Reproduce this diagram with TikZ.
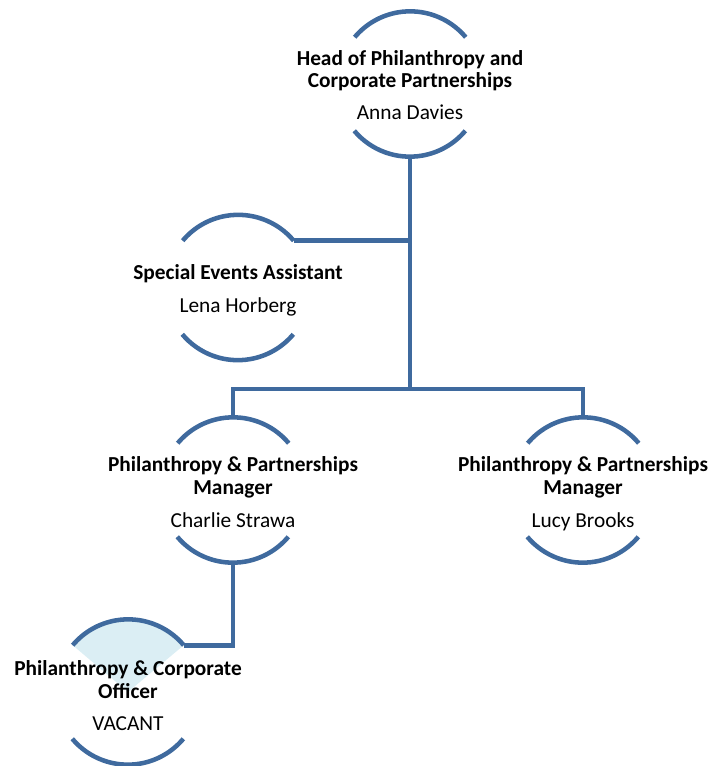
\documentclass[tikz,border=0pt]{standalone}
\usepackage{fontspec}
\setmainfont{Carlito}
\definecolor{lineblue}{HTML}{3F6A9E}
\definecolor{fillblue}{HTML}{DBEEF4}
\newcommand\personarcs[1]{%
  \draw[arcline] (#1.40) arc[start angle=40,end angle=140,radius=72.5];
  \draw[arcline] (#1.220) arc[start angle=220,end angle=320,radius=72.5];}
\begin{document}
\begin{tikzpicture}[x=0.75pt,y=0.75pt,
  person/.style={circle, minimum size=108.75pt, inner sep=0pt},
  arcline/.style={draw=lineblue, line width=3.4pt},
  conn/.style={draw=lineblue, line width=3.4pt},
  titletext/.style={font=\fontsize{16}{17}\selectfont\bfseries, align=center, anchor=base, inner sep=0pt},
  nametext/.style={font=\fontsize{16}{17}\selectfont, anchor=base, inner sep=0pt}]
\useasboundingbox (0,0) rectangle (711,-766);

% person circles (invisible frames)
\node[person] (head) at (410,-84) {};
\node[person] (special) at (238,-287.5) {};
\node[person] (charlie) at (233,-490) {};
\node[person] (lucy) at (583,-490) {};
\node[person] (vacant) at (128,-692) {};
\coordinate (bus) at (410,-389);

% vacant highlight wedge
\fill[fillblue] (vacant.center) -- (vacant.40) arc[start angle=40,end angle=140,radius=72.5] -- cycle;

% connectors
\draw[conn] (head.south) -- (bus);
\draw[conn] (special.40) -- (special.40 -| head.south);
\draw[conn] (charlie.north) |- (bus) -| (lucy.north);
\draw[conn] (charlie.south) |- (vacant.40);

% arcs
\personarcs{head}
\personarcs{special}
\personarcs{charlie}
\personarcs{lucy}
\personarcs{vacant}

% texts (base anchor = baseline of last line)
\node[titletext] (headT) at (410,-88) {Head of Philanthropy and\\Corporate Partnerships};
\node[nametext] (headN) at (410,-120) {Anna Davies};
\node[titletext] (specialT) at (238,-279) {Special Events Assistant};
\node[nametext] (specialN) at (238,-312) {Lena Horberg};
\node[titletext] (charlieT) at (233,-494) {Philanthropy \& Partnerships\\Manager};
\node[nametext] (charlieN) at (233,-527) {Charlie Strawa};
\node[titletext] (lucyT) at (583,-494) {Philanthropy \& Partnerships\\Manager};
\node[nametext] (lucyN) at (583,-527) {Lucy Brooks};
\node[titletext] (vacantT) at (128,-698) {Philanthropy \& Corporate\\Officer};
\node[nametext] (vacantN) at (128,-730) {VACANT};
\end{tikzpicture}
\end{document}
